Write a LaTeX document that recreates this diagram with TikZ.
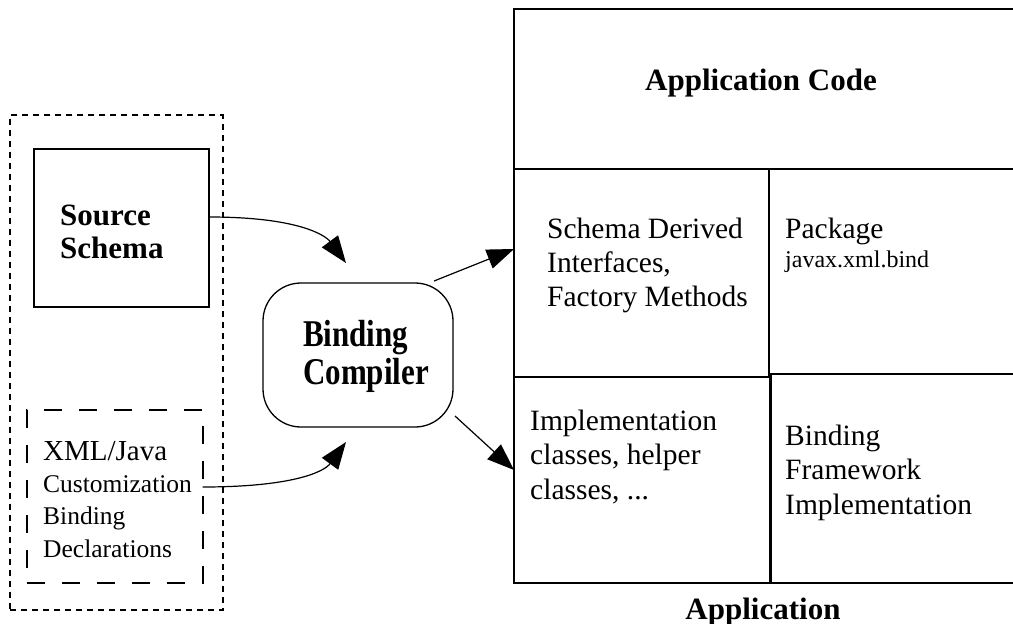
\documentclass[tikz,border=0pt]{standalone}
\usepackage{fontspec}
\setmainfont{Liberation Serif}
\newfontfamily\condserif[FakeStretch=0.82]{Liberation Serif}
\usetikzlibrary{arrows.meta}
\begin{document}
\begin{tikzpicture}[x=1pt,y=-1pt,
  solidbox/.style={draw,line width=2.8pt,inner sep=0pt,outer sep=0pt},
  dotbox/.style={draw,line width=2.4pt,dash pattern=on 6pt off 5pt,inner sep=0pt,outer sep=0pt},
  dashbox/.style={draw,line width=2.4pt,dash pattern=on 18pt off 17pt,inner sep=0pt,outer sep=0pt},
  roundbox/.style={draw,line width=1.3pt,rounded corners=38pt,inner sep=0pt},
  conn/.style={line width=1.2pt,-{Triangle[length=27pt,width=20pt]}},
  txt/.style={inner sep=0pt,anchor=base west,font=\fontsize{29.5}{34}\selectfont},
  txtsm/.style={inner sep=0pt,anchor=base west,font=\fontsize{24}{28}\selectfont},
  txtmid/.style={inner sep=0pt,anchor=base west,font=\fontsize{25.5}{30}\selectfont},
  txtxml/.style={inner sep=0pt,anchor=base west,font=\fontsize{29}{33}\selectfont},
  boldtxt/.style={inner sep=0pt,anchor=base west,font=\bfseries\fontsize{31}{33}\selectfont},
  boldc/.style={inner sep=0pt,anchor=base,font=\bfseries\fontsize{31}{33}\selectfont},
  condtxt/.style={inner sep=0pt,anchor=base west,font=\condserif\bfseries\fontsize{37.8}{38}\selectfont}
]
\useasboundingbox (0,0) rectangle (1013,624);

% left group
\node[dotbox,minimum width=212.7pt,minimum height=495pt] (outer) at (116.35,362.5) {};
\node[solidbox,minimum width=175pt,minimum height=158pt] (src) at (121.5,228) {};
\node[dashbox,minimum width=176pt,minimum height=173pt] (xmlbox) at (114.7,496.5) {};
\node[boldtxt] (src1) at (60,225) {Source};
\node[boldtxt] (src2) at (60,258) {Schema};
\node[txtxml] (x1) at (43,460) {XML/Java};
\node[txtmid] (x2) at (43,492) {Customization};
\node[txtmid] (x3) at (43,524.5) {Binding};
\node[txtmid] (x4) at (43,557) {Declarations};

% binding compiler
\node[roundbox,minimum width=190pt,minimum height=144pt] (bc) at (358,355) {};
\node[condtxt] (bc1) at (303,346.7) {Binding};
\node[condtxt] (bc2) at (303,384) {Compiler};

% application panel
\node[solidbox,minimum width=502pt,minimum height=160pt] (appcode) at (765,89) {};
\node[solidbox,minimum width=255pt,minimum height=208pt] (sdi) at (641.5,273) {};
\node[solidbox,minimum width=247pt,minimum height=205pt] (pkg) at (892.5,271.5) {};
\node[solidbox,minimum width=256.5pt,minimum height=206pt] (impl) at (642.25,480) {};
\node[solidbox,minimum width=245.5pt,minimum height=209pt] (bfw) at (893.25,478.5) {};

\node[boldc] (appcodelbl) at (761,90.7) {Application Code};
\node[txt] (s1) at (547,238.8) {Schema Derived};
\node[txt] (s2) at (547,272.6) {Interfaces,};
\node[txt] (s3) at (547,306.5) {Factory Methods};
\node[txt] (p1) at (785,238.8) {Package};
\node[txtsm] (p2) at (785,267.5) {javax.xml.bind};
\node[txt] (i1) at (530,430) {Implementation};
\node[txt] (i2) at (530,464.5) {classes, helper};
\node[txt] (i3) at (530,499) {classes, ...};
\node[txt] (b1) at (785,445) {Binding};
\node[txt] (b2) at (785,479.5) {Framework};
\node[txt] (b3) at (785,514) {Implementation};
\node[boldc] (applbl) at (763,619) {Application};

% connectors
\coordinate (bcin1) at (346,263);
\coordinate (bcin2) at (346,442);
\coordinate (bcout1) at (434,281);
\coordinate (bcout2) at (455,416);
\draw[conn] ([yshift=11pt]src.east) .. controls (300,217) and (326,236) .. (bcin1);
\draw[conn] ([yshift=9.5pt]xmlbox.east) .. controls (292,487) and (324,472) .. (bcin2);
\draw[conn] (bcout1) -- ([yshift=24pt]sdi.west);
\draw[conn] (bcout2) -- ([yshift=10pt]impl.west);
\end{tikzpicture}
\end{document}
